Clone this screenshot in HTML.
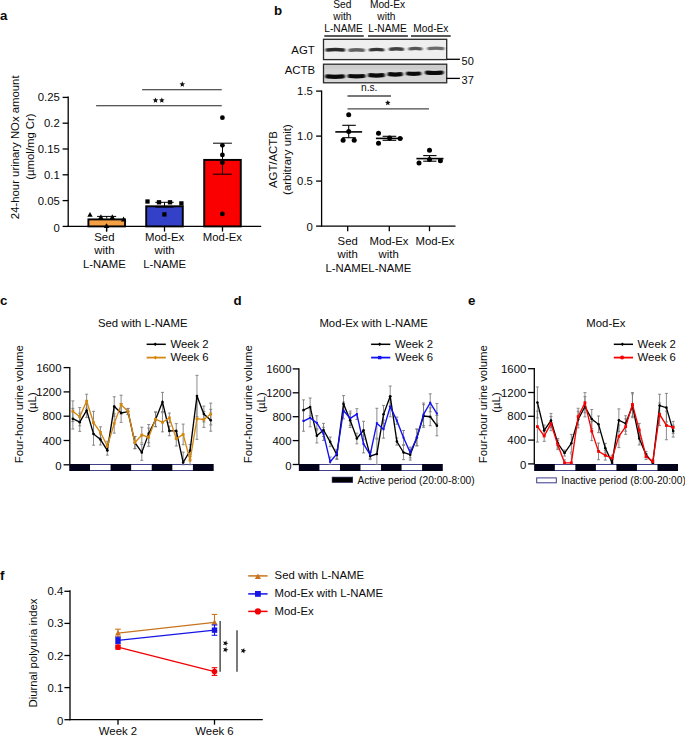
<!DOCTYPE html>
<html><head><meta charset="utf-8"><style>
html,body{margin:0;padding:0;background:#fff;}
svg{display:block;font-family:"Liberation Sans",sans-serif;}

</style></head><body>
<svg width="685" height="735" viewBox="0 0 685 735" font-size="11.35" fill="#0a0a0a">
<text x="0.00" y="19.60" font-size="13.3" font-weight="bold">a</text>
<line x1="68.20" y1="96.50" x2="68.20" y2="227.05" stroke="#000" stroke-width="1.3" />
<line x1="62.60" y1="226.40" x2="68.20" y2="226.40" stroke="#000" stroke-width="1.3" />
<text x="59.80" y="231.60" text-anchor="end">0</text>
<line x1="62.60" y1="200.60" x2="68.20" y2="200.60" stroke="#000" stroke-width="1.3" />
<text x="59.80" y="204.60" text-anchor="end">0.05</text>
<line x1="62.60" y1="174.80" x2="68.20" y2="174.80" stroke="#000" stroke-width="1.3" />
<text x="59.80" y="178.80" text-anchor="end">0.1</text>
<line x1="62.60" y1="149.00" x2="68.20" y2="149.00" stroke="#000" stroke-width="1.3" />
<text x="59.80" y="153.00" text-anchor="end">0.15</text>
<line x1="62.60" y1="123.20" x2="68.20" y2="123.20" stroke="#000" stroke-width="1.3" />
<text x="59.80" y="127.20" text-anchor="end">0.2</text>
<line x1="62.60" y1="97.40" x2="68.20" y2="97.40" stroke="#000" stroke-width="1.3" />
<text x="59.80" y="101.40" text-anchor="end">0.25</text>
<line x1="67.55" y1="226.40" x2="261.20" y2="226.40" stroke="#000" stroke-width="1.3" />
<text transform="translate(19.20,147.30) rotate(-90)" text-anchor="middle">24-hour urinary NOx amount</text>
<text transform="translate(33.80,146.60) rotate(-90)" text-anchor="middle">(µmol/mg Cr)</text>
<rect x="88.40" y="219.40" width="36.60" height="7.00" fill="#F5A043" stroke="#000" stroke-width="1.9" />
<line x1="106.70" y1="226.40" x2="106.70" y2="231.60" stroke="#000" stroke-width="1.3" />
<rect x="146.20" y="206.30" width="36.60" height="20.10" fill="#3241C8" stroke="#000" stroke-width="1.9" />
<line x1="164.50" y1="226.40" x2="164.50" y2="231.60" stroke="#000" stroke-width="1.3" />
<rect x="204.20" y="159.90" width="36.60" height="66.50" fill="#FA0000" stroke="#000" stroke-width="1.9" />
<line x1="222.50" y1="226.40" x2="222.50" y2="231.60" stroke="#000" stroke-width="1.3" />
<line x1="97.10" y1="216.40" x2="116.20" y2="216.40" stroke="#000" stroke-width="1.0" />
<line x1="106.70" y1="216.40" x2="106.70" y2="218.50" stroke="#000" stroke-width="1.0" />
<line x1="106.50" y1="224.00" x2="106.50" y2="231.50" stroke="#000" stroke-width="1.2" />
<line x1="155.30" y1="202.30" x2="173.70" y2="202.30" stroke="#000" stroke-width="1.0" />
<line x1="155.30" y1="207.10" x2="173.70" y2="207.10" stroke="#000" stroke-width="1.0" />
<line x1="164.50" y1="202.30" x2="164.50" y2="207.10" stroke="#000" stroke-width="1.0" />
<line x1="213.00" y1="143.20" x2="231.90" y2="143.20" stroke="#000" stroke-width="1.0" />
<line x1="213.00" y1="174.20" x2="231.90" y2="174.20" stroke="#000" stroke-width="1.0" />
<line x1="222.50" y1="143.20" x2="222.50" y2="174.20" stroke="#000" stroke-width="1.0" />
<polygon points="87.30,216.83 92.70,216.83 90.00,211.97" fill="#000"/>
<polygon points="98.20,219.13 103.60,219.13 100.90,214.27" fill="#000"/>
<polygon points="109.60,219.13 115.00,219.13 112.30,214.27" fill="#000"/>
<polygon points="120.90,221.43 126.30,221.43 123.60,216.57" fill="#000"/>
<polygon points="103.80,228.03 109.20,228.03 106.50,223.17" fill="#000"/>
<rect x="145.35" y="199.35" width="4.30" height="4.30" fill="#000" />
<rect x="156.85" y="200.15" width="4.30" height="4.30" fill="#000" />
<rect x="167.85" y="200.15" width="4.30" height="4.30" fill="#000" />
<rect x="179.25" y="201.25" width="4.30" height="4.30" fill="#000" />
<rect x="162.25" y="212.25" width="4.30" height="4.30" fill="#000" />
<circle cx="222.40" cy="117.70" r="2.4" fill="#000"/>
<circle cx="222.40" cy="145.30" r="2.4" fill="#000"/>
<circle cx="222.40" cy="154.90" r="2.4" fill="#000"/>
<circle cx="222.40" cy="162.50" r="2.4" fill="#000"/>
<circle cx="222.40" cy="213.90" r="2.4" fill="#000"/>
<line x1="142.10" y1="89.70" x2="221.80" y2="89.70" stroke="#222" stroke-width="1.1" />
<line x1="96.10" y1="105.70" x2="221.80" y2="105.70" stroke="#222" stroke-width="1.1" />
<polygon points="182.30,81.35 183.08,83.23 185.11,83.39 183.56,84.71 184.03,86.69 182.30,85.63 180.57,86.69 181.04,84.71 179.49,83.39 181.52,83.23" fill="#111"/>
<polygon points="155.50,97.45 156.28,99.33 158.31,99.49 156.76,100.81 157.23,102.79 155.50,101.73 153.77,102.79 154.24,100.81 152.69,99.49 154.72,99.33" fill="#111"/>
<polygon points="161.80,97.45 162.58,99.33 164.61,99.49 163.06,100.81 163.53,102.79 161.80,101.73 160.07,102.79 160.54,100.81 158.99,99.49 161.02,99.33" fill="#111"/>
<text x="104.40" y="240.80" text-anchor="middle">Sed</text>
<text x="104.40" y="254.30" text-anchor="middle">with</text>
<text x="104.40" y="267.80" text-anchor="middle">L-NAME</text>
<text x="164.60" y="240.80" text-anchor="middle">Mod-Ex</text>
<text x="164.60" y="254.30" text-anchor="middle">with</text>
<text x="164.60" y="267.80" text-anchor="middle">L-NAME</text>
<text x="222.40" y="240.80" text-anchor="middle">Mod-Ex</text>
<text x="274.00" y="14.60" font-size="13.3" font-weight="bold">b</text>
<text x="342.40" y="7.80" text-anchor="middle" font-size="10.2">Sed</text>
<text x="342.40" y="19.90" text-anchor="middle" font-size="10.2">with</text>
<text x="343.50" y="32.10" text-anchor="middle" font-size="10.2">L-NAME</text>
<text x="387.50" y="7.60" text-anchor="middle" font-size="10.2">Mod-Ex</text>
<text x="386.40" y="19.60" text-anchor="middle" font-size="10.2">with</text>
<text x="387.50" y="31.90" text-anchor="middle" font-size="10.2">L-NAME</text>
<text x="430.90" y="32.10" text-anchor="middle" font-size="10.2">Mod-Ex</text>
<line x1="324.30" y1="36.00" x2="363.70" y2="36.00" stroke="#222" stroke-width="1.6" />
<line x1="368.00" y1="36.00" x2="407.90" y2="36.00" stroke="#222" stroke-width="1.6" />
<line x1="411.00" y1="36.00" x2="450.70" y2="36.00" stroke="#222" stroke-width="1.6" />
<defs><filter id="bl" filterUnits="userSpaceOnUse" x="300" y="30" width="170" height="60"><feGaussianBlur stdDeviation="0.9 0.7"/></filter><filter id="bl2" x="-20%" y="-50%" width="140%" height="200%"><feGaussianBlur stdDeviation="2.5"/></filter></defs>
<rect x="323.50" y="39.30" width="123.20" height="20.30" fill="#efefef" />
<rect x="323.50" y="64.20" width="123.20" height="18.60" fill="#d6d6d6" />
<path d="M327.1,50.0 Q335.3,49.0 343.5,50.0" stroke="#151515" stroke-width="3.4" stroke-linecap="round" fill="none" opacity="0.9" filter="url(#bl)"/>
<path d="M350.1,50.2 Q356.6,49.2 363.2,50.2" stroke="#151515" stroke-width="3.4" stroke-linecap="round" fill="none" opacity="0.65" filter="url(#bl)"/>
<path d="M370.5,49.9 Q376.6,48.9 382.7,49.9" stroke="#151515" stroke-width="3.4" stroke-linecap="round" fill="none" opacity="0.85" filter="url(#bl)"/>
<path d="M390.5,49.2 Q396.4,48.2 402.4,49.2" stroke="#151515" stroke-width="3.4" stroke-linecap="round" fill="none" opacity="0.8" filter="url(#bl)"/>
<path d="M410.0,48.9 Q415.4,47.9 420.8,48.9" stroke="#151515" stroke-width="3.4" stroke-linecap="round" fill="none" opacity="0.7" filter="url(#bl)"/>
<path d="M428.9,48.6 Q435.9,47.6 442.8,48.6" stroke="#151515" stroke-width="3.4" stroke-linecap="round" fill="none" opacity="0.6" filter="url(#bl)"/>
<rect x="324.30" y="64.90" width="121.60" height="4.50" fill="#cccccc" filter="url(#bl)"/>
<path d="M327.1,76.4 Q335.1,77.2 343.0,76.4" stroke="#000" stroke-width="4.2" stroke-linecap="round" fill="none" opacity="0.95" filter="url(#bl)"/>
<path d="M349.6,76.0 Q356.6,76.8 363.5,76.0" stroke="#000" stroke-width="4.2" stroke-linecap="round" fill="none" opacity="0.95" filter="url(#bl)"/>
<path d="M370.0,75.2 Q376.4,76.0 382.9,75.2" stroke="#000" stroke-width="4.2" stroke-linecap="round" fill="none" opacity="0.95" filter="url(#bl)"/>
<path d="M389.5,74.2 Q395.2,75.0 400.9,74.2" stroke="#000" stroke-width="4.2" stroke-linecap="round" fill="none" opacity="0.95" filter="url(#bl)"/>
<path d="M408.0,73.5 Q413.6,74.3 419.3,73.5" stroke="#000" stroke-width="4.2" stroke-linecap="round" fill="none" opacity="0.95" filter="url(#bl)"/>
<path d="M426.9,72.6 Q434.3,73.4 441.7,72.6" stroke="#000" stroke-width="4.2" stroke-linecap="round" fill="none" opacity="0.95" filter="url(#bl)"/>
<rect x="323.50" y="39.30" width="123.20" height="20.30" fill="none" stroke="#2a2a2a" stroke-width="1.3" />
<rect x="323.50" y="64.20" width="123.20" height="18.60" fill="none" stroke="#2a2a2a" stroke-width="1.3" />
<text x="314.70" y="53.70" text-anchor="end">AGT</text>
<text x="315.00" y="74.40" text-anchor="end">ACTB</text>
<line x1="447.00" y1="59.30" x2="459.90" y2="59.30" stroke="#000" stroke-width="1.3" />
<line x1="446.40" y1="78.40" x2="459.90" y2="78.40" stroke="#000" stroke-width="1.3" />
<text x="461.60" y="64.90" font-size="11">50</text>
<text x="461.60" y="83.90" font-size="11">37</text>
<line x1="321.60" y1="90.50" x2="321.60" y2="226.75" stroke="#000" stroke-width="1.3" />
<line x1="316.10" y1="226.10" x2="321.60" y2="226.10" stroke="#000" stroke-width="1.3" />
<text x="312.90" y="231.30" text-anchor="end">0</text>
<line x1="316.10" y1="181.10" x2="321.60" y2="181.10" stroke="#000" stroke-width="1.3" />
<text x="312.90" y="185.10" text-anchor="end">0.5</text>
<line x1="316.10" y1="136.10" x2="321.60" y2="136.10" stroke="#000" stroke-width="1.3" />
<text x="312.90" y="140.10" text-anchor="end">1.0</text>
<line x1="316.10" y1="91.10" x2="321.60" y2="91.10" stroke="#000" stroke-width="1.3" />
<text x="312.90" y="95.10" text-anchor="end">1.5</text>
<line x1="320.95" y1="226.10" x2="455.50" y2="226.10" stroke="#000" stroke-width="1.3" />
<line x1="347.70" y1="226.10" x2="347.70" y2="231.20" stroke="#000" stroke-width="1.3" />
<line x1="389.30" y1="226.10" x2="389.30" y2="231.20" stroke="#000" stroke-width="1.3" />
<line x1="429.50" y1="226.10" x2="429.50" y2="231.20" stroke="#000" stroke-width="1.3" />
<text transform="translate(277.10,159.60) rotate(-90)" text-anchor="middle">AGT/ACTB</text>
<text transform="translate(291.30,159.60) rotate(-90)" text-anchor="middle">(arbitrary unit)</text>
<line x1="347.50" y1="96.00" x2="391.00" y2="96.00" stroke="#4a4a4a" stroke-width="1.4" />
<line x1="347.50" y1="108.90" x2="429.00" y2="108.90" stroke="#4a4a4a" stroke-width="1.4" />
<text x="369.20" y="90.80" text-anchor="middle" font-size="10.2">n.s.</text>
<polygon points="387.80,99.95 388.58,101.83 390.61,101.99 389.06,103.31 389.53,105.29 387.80,104.23 386.07,105.29 386.54,103.31 384.99,101.99 387.02,101.83" fill="#111"/>
<circle cx="348.70" cy="114.80" r="2.5" fill="#000"/>
<circle cx="348.70" cy="131.60" r="2.5" fill="#000"/>
<circle cx="343.10" cy="140.30" r="2.5" fill="#000"/>
<circle cx="354.20" cy="140.30" r="2.5" fill="#000"/>
<circle cx="378.50" cy="133.30" r="2.5" fill="#000"/>
<circle cx="378.50" cy="143.30" r="2.5" fill="#000"/>
<circle cx="389.60" cy="138.10" r="2.5" fill="#000"/>
<circle cx="400.10" cy="138.40" r="2.5" fill="#000"/>
<circle cx="429.50" cy="150.30" r="2.5" fill="#000"/>
<circle cx="419.00" cy="163.10" r="2.5" fill="#000"/>
<circle cx="429.50" cy="159.60" r="2.5" fill="#000"/>
<circle cx="440.40" cy="160.80" r="2.5" fill="#000"/>
<line x1="335.30" y1="131.90" x2="362.10" y2="131.90" stroke="#000" stroke-width="1.6" />
<line x1="342.30" y1="125.30" x2="355.80" y2="125.30" stroke="#000" stroke-width="1.1" />
<line x1="342.30" y1="137.70" x2="355.80" y2="137.70" stroke="#000" stroke-width="1.1" />
<line x1="348.70" y1="125.30" x2="348.70" y2="137.70" stroke="#000" stroke-width="1.1" />
<line x1="375.90" y1="138.40" x2="402.70" y2="138.40" stroke="#000" stroke-width="1.6" />
<line x1="382.60" y1="136.30" x2="396.20" y2="136.30" stroke="#000" stroke-width="1.1" />
<line x1="382.60" y1="140.30" x2="396.20" y2="140.30" stroke="#000" stroke-width="1.1" />
<line x1="389.30" y1="136.30" x2="389.30" y2="140.30" stroke="#000" stroke-width="1.1" />
<line x1="416.40" y1="158.60" x2="443.50" y2="158.60" stroke="#000" stroke-width="1.6" />
<line x1="423.20" y1="155.60" x2="436.50" y2="155.60" stroke="#000" stroke-width="1.1" />
<line x1="423.20" y1="161.20" x2="436.50" y2="161.20" stroke="#000" stroke-width="1.1" />
<line x1="429.50" y1="155.60" x2="429.50" y2="161.20" stroke="#000" stroke-width="1.1" />
<text x="347.70" y="244.50" text-anchor="middle">Sed</text>
<text x="347.70" y="258.00" text-anchor="middle">with</text>
<text x="389.00" y="244.50" text-anchor="middle">Mod-Ex</text>
<text x="388.70" y="258.00" text-anchor="middle">with</text>
<text x="325.50" y="271.60" >L-NAMEL-NAME</text>
<text x="435.00" y="245.20" text-anchor="middle">Mod-Ex</text>
<text x="0.00" y="305.00" font-size="13.3" font-weight="bold">c</text>
<line x1="69.80" y1="367.00" x2="69.80" y2="465.40" stroke="#000" stroke-width="1.3" />
<line x1="63.60" y1="464.80" x2="69.80" y2="464.80" stroke="#000" stroke-width="1.3" />
<text x="61.50" y="470.00" text-anchor="end">0</text>
<line x1="63.60" y1="440.50" x2="69.80" y2="440.50" stroke="#000" stroke-width="1.3" />
<text x="61.50" y="444.50" text-anchor="end">400</text>
<line x1="63.60" y1="416.20" x2="69.80" y2="416.20" stroke="#000" stroke-width="1.3" />
<text x="61.50" y="420.20" text-anchor="end">800</text>
<line x1="63.60" y1="391.90" x2="69.80" y2="391.90" stroke="#000" stroke-width="1.3" />
<text x="61.50" y="395.90" text-anchor="end">1200</text>
<line x1="63.60" y1="367.60" x2="69.80" y2="367.60" stroke="#000" stroke-width="1.3" />
<text x="61.50" y="371.60" text-anchor="end">1600</text>
<text transform="translate(22.50,404.20) rotate(-90)" text-anchor="middle">Four-hour urine volume</text>
<text transform="translate(35.50,402.50) rotate(-90)" text-anchor="middle">(µL)</text>
<text x="142.70" y="327.20" text-anchor="middle">Sed with L-NAME</text>
<line x1="146.60" y1="344.30" x2="165.80" y2="344.30" stroke="#000" stroke-width="1.5" />
<polygon points="155.20,342.50 157.00,344.30 155.20,346.10 153.40,344.30" fill="#000"/>
<text x="170.40" y="347.60" >Week 2</text>
<line x1="146.60" y1="357.60" x2="165.80" y2="357.60" stroke="#D4870F" stroke-width="1.8" />
<polygon points="155.40,355.70 157.30,357.60 155.40,359.50 153.50,357.60" fill="#D4870F"/>
<text x="170.40" y="360.70" >Week 6</text>
<rect x="69.90" y="464.50" width="143.10" height="6.00" fill="#fff" stroke="#40408a" stroke-width="1.0" />
<rect x="69.40" y="464.00" width="20.59" height="7.00" fill="#02021a" />
<rect x="110.57" y="464.00" width="20.59" height="7.00" fill="#02021a" />
<rect x="151.74" y="464.00" width="20.59" height="7.00" fill="#02021a" />
<rect x="192.91" y="464.00" width="20.59" height="7.00" fill="#02021a" />
<line x1="72.85" y1="408.36" x2="72.85" y2="429.02" stroke="#777" stroke-width="0.85" />
<line x1="71.35" y1="408.36" x2="74.35" y2="408.36" stroke="#777" stroke-width="0.85" />
<line x1="71.35" y1="429.02" x2="74.35" y2="429.02" stroke="#777" stroke-width="0.85" />
<line x1="79.74" y1="413.10" x2="79.74" y2="431.33" stroke="#777" stroke-width="0.85" />
<line x1="78.24" y1="413.10" x2="81.24" y2="413.10" stroke="#777" stroke-width="0.85" />
<line x1="78.24" y1="431.33" x2="81.24" y2="431.33" stroke="#777" stroke-width="0.85" />
<line x1="86.64" y1="403.44" x2="86.64" y2="417.42" stroke="#777" stroke-width="0.85" />
<line x1="85.14" y1="403.44" x2="88.14" y2="403.44" stroke="#777" stroke-width="0.85" />
<line x1="85.14" y1="417.42" x2="88.14" y2="417.42" stroke="#777" stroke-width="0.85" />
<line x1="93.53" y1="422.70" x2="93.53" y2="445.18" stroke="#777" stroke-width="0.85" />
<line x1="92.03" y1="422.70" x2="95.03" y2="422.70" stroke="#777" stroke-width="0.85" />
<line x1="92.03" y1="445.18" x2="95.03" y2="445.18" stroke="#777" stroke-width="0.85" />
<line x1="100.43" y1="434.06" x2="100.43" y2="445.00" stroke="#777" stroke-width="0.85" />
<line x1="98.93" y1="434.06" x2="101.93" y2="434.06" stroke="#777" stroke-width="0.85" />
<line x1="98.93" y1="445.00" x2="101.93" y2="445.00" stroke="#777" stroke-width="0.85" />
<line x1="107.32" y1="445.42" x2="107.32" y2="455.14" stroke="#777" stroke-width="0.85" />
<line x1="105.82" y1="445.42" x2="108.82" y2="445.42" stroke="#777" stroke-width="0.85" />
<line x1="105.82" y1="455.14" x2="108.82" y2="455.14" stroke="#777" stroke-width="0.85" />
<line x1="114.22" y1="396.76" x2="114.22" y2="416.20" stroke="#777" stroke-width="0.85" />
<line x1="112.72" y1="396.76" x2="115.72" y2="396.76" stroke="#777" stroke-width="0.85" />
<line x1="112.72" y1="416.20" x2="115.72" y2="416.20" stroke="#777" stroke-width="0.85" />
<line x1="121.11" y1="403.50" x2="121.11" y2="422.34" stroke="#777" stroke-width="0.85" />
<line x1="119.61" y1="403.50" x2="122.61" y2="403.50" stroke="#777" stroke-width="0.85" />
<line x1="119.61" y1="422.34" x2="122.61" y2="422.34" stroke="#777" stroke-width="0.85" />
<line x1="128.01" y1="408.67" x2="128.01" y2="414.74" stroke="#777" stroke-width="0.85" />
<line x1="126.51" y1="408.67" x2="129.51" y2="408.67" stroke="#777" stroke-width="0.85" />
<line x1="126.51" y1="414.74" x2="129.51" y2="414.74" stroke="#777" stroke-width="0.85" />
<line x1="134.90" y1="436.61" x2="134.90" y2="448.76" stroke="#777" stroke-width="0.85" />
<line x1="133.40" y1="436.61" x2="136.40" y2="436.61" stroke="#777" stroke-width="0.85" />
<line x1="133.40" y1="448.76" x2="136.40" y2="448.76" stroke="#777" stroke-width="0.85" />
<line x1="141.80" y1="444.51" x2="141.80" y2="460.30" stroke="#777" stroke-width="0.85" />
<line x1="140.30" y1="444.51" x2="143.30" y2="444.51" stroke="#777" stroke-width="0.85" />
<line x1="140.30" y1="460.30" x2="143.30" y2="460.30" stroke="#777" stroke-width="0.85" />
<line x1="148.69" y1="424.52" x2="148.69" y2="442.75" stroke="#777" stroke-width="0.85" />
<line x1="147.19" y1="424.52" x2="150.19" y2="424.52" stroke="#777" stroke-width="0.85" />
<line x1="147.19" y1="442.75" x2="150.19" y2="442.75" stroke="#777" stroke-width="0.85" />
<line x1="155.59" y1="412.19" x2="155.59" y2="426.77" stroke="#777" stroke-width="0.85" />
<line x1="154.09" y1="412.19" x2="157.09" y2="412.19" stroke="#777" stroke-width="0.85" />
<line x1="154.09" y1="426.77" x2="157.09" y2="426.77" stroke="#777" stroke-width="0.85" />
<line x1="162.48" y1="392.39" x2="162.48" y2="411.58" stroke="#777" stroke-width="0.85" />
<line x1="160.98" y1="392.39" x2="163.98" y2="392.39" stroke="#777" stroke-width="0.85" />
<line x1="160.98" y1="411.58" x2="163.98" y2="411.58" stroke="#777" stroke-width="0.85" />
<line x1="169.38" y1="426.04" x2="169.38" y2="435.76" stroke="#777" stroke-width="0.85" />
<line x1="167.88" y1="426.04" x2="170.88" y2="426.04" stroke="#777" stroke-width="0.85" />
<line x1="167.88" y1="435.76" x2="170.88" y2="435.76" stroke="#777" stroke-width="0.85" />
<line x1="176.27" y1="423.61" x2="176.27" y2="438.19" stroke="#777" stroke-width="0.85" />
<line x1="174.77" y1="423.61" x2="177.77" y2="423.61" stroke="#777" stroke-width="0.85" />
<line x1="174.77" y1="438.19" x2="177.77" y2="438.19" stroke="#777" stroke-width="0.85" />
<line x1="183.17" y1="452.16" x2="183.17" y2="464.80" stroke="#777" stroke-width="0.85" />
<line x1="181.67" y1="452.16" x2="184.67" y2="452.16" stroke="#777" stroke-width="0.85" />
<line x1="181.67" y1="464.80" x2="184.67" y2="464.80" stroke="#777" stroke-width="0.85" />
<line x1="190.06" y1="444.45" x2="190.06" y2="456.60" stroke="#777" stroke-width="0.85" />
<line x1="188.56" y1="444.45" x2="191.56" y2="444.45" stroke="#777" stroke-width="0.85" />
<line x1="188.56" y1="456.60" x2="191.56" y2="456.60" stroke="#777" stroke-width="0.85" />
<line x1="196.96" y1="375.38" x2="196.96" y2="416.69" stroke="#777" stroke-width="0.85" />
<line x1="195.46" y1="375.38" x2="198.46" y2="375.38" stroke="#777" stroke-width="0.85" />
<line x1="195.46" y1="416.69" x2="198.46" y2="416.69" stroke="#777" stroke-width="0.85" />
<line x1="203.85" y1="406.12" x2="203.85" y2="421.91" stroke="#777" stroke-width="0.85" />
<line x1="202.35" y1="406.12" x2="205.35" y2="406.12" stroke="#777" stroke-width="0.85" />
<line x1="202.35" y1="421.91" x2="205.35" y2="421.91" stroke="#777" stroke-width="0.85" />
<line x1="210.75" y1="409.34" x2="210.75" y2="431.21" stroke="#777" stroke-width="0.85" />
<line x1="209.25" y1="409.34" x2="212.25" y2="409.34" stroke="#777" stroke-width="0.85" />
<line x1="209.25" y1="431.21" x2="212.25" y2="431.21" stroke="#777" stroke-width="0.85" />
<line x1="72.85" y1="400.89" x2="72.85" y2="421.55" stroke="#777" stroke-width="0.85" />
<line x1="71.35" y1="400.89" x2="74.35" y2="400.89" stroke="#777" stroke-width="0.85" />
<line x1="71.35" y1="421.55" x2="74.35" y2="421.55" stroke="#777" stroke-width="0.85" />
<line x1="79.74" y1="407.57" x2="79.74" y2="425.80" stroke="#777" stroke-width="0.85" />
<line x1="78.24" y1="407.57" x2="81.24" y2="407.57" stroke="#777" stroke-width="0.85" />
<line x1="78.24" y1="425.80" x2="81.24" y2="425.80" stroke="#777" stroke-width="0.85" />
<line x1="86.64" y1="394.21" x2="86.64" y2="408.18" stroke="#777" stroke-width="0.85" />
<line x1="85.14" y1="394.21" x2="88.14" y2="394.21" stroke="#777" stroke-width="0.85" />
<line x1="85.14" y1="408.18" x2="88.14" y2="408.18" stroke="#777" stroke-width="0.85" />
<line x1="93.53" y1="411.34" x2="93.53" y2="433.82" stroke="#777" stroke-width="0.85" />
<line x1="92.03" y1="411.34" x2="95.03" y2="411.34" stroke="#777" stroke-width="0.85" />
<line x1="92.03" y1="433.82" x2="95.03" y2="433.82" stroke="#777" stroke-width="0.85" />
<line x1="100.43" y1="426.83" x2="100.43" y2="437.77" stroke="#777" stroke-width="0.85" />
<line x1="98.93" y1="426.83" x2="101.93" y2="426.83" stroke="#777" stroke-width="0.85" />
<line x1="98.93" y1="437.77" x2="101.93" y2="437.77" stroke="#777" stroke-width="0.85" />
<line x1="107.32" y1="441.23" x2="107.32" y2="450.95" stroke="#777" stroke-width="0.85" />
<line x1="105.82" y1="441.23" x2="108.82" y2="441.23" stroke="#777" stroke-width="0.85" />
<line x1="105.82" y1="450.95" x2="108.82" y2="450.95" stroke="#777" stroke-width="0.85" />
<line x1="114.22" y1="413.71" x2="114.22" y2="433.15" stroke="#777" stroke-width="0.85" />
<line x1="112.72" y1="413.71" x2="115.72" y2="413.71" stroke="#777" stroke-width="0.85" />
<line x1="112.72" y1="433.15" x2="115.72" y2="433.15" stroke="#777" stroke-width="0.85" />
<line x1="121.11" y1="395.18" x2="121.11" y2="414.01" stroke="#777" stroke-width="0.85" />
<line x1="119.61" y1="395.18" x2="122.61" y2="395.18" stroke="#777" stroke-width="0.85" />
<line x1="119.61" y1="414.01" x2="122.61" y2="414.01" stroke="#777" stroke-width="0.85" />
<line x1="128.01" y1="408.36" x2="128.01" y2="414.44" stroke="#777" stroke-width="0.85" />
<line x1="126.51" y1="408.36" x2="129.51" y2="408.36" stroke="#777" stroke-width="0.85" />
<line x1="126.51" y1="414.44" x2="129.51" y2="414.44" stroke="#777" stroke-width="0.85" />
<line x1="134.90" y1="436.43" x2="134.90" y2="448.58" stroke="#777" stroke-width="0.85" />
<line x1="133.40" y1="436.43" x2="136.40" y2="436.43" stroke="#777" stroke-width="0.85" />
<line x1="133.40" y1="448.58" x2="136.40" y2="448.58" stroke="#777" stroke-width="0.85" />
<line x1="141.80" y1="427.20" x2="141.80" y2="442.99" stroke="#777" stroke-width="0.85" />
<line x1="140.30" y1="427.20" x2="143.30" y2="427.20" stroke="#777" stroke-width="0.85" />
<line x1="140.30" y1="442.99" x2="143.30" y2="442.99" stroke="#777" stroke-width="0.85" />
<line x1="148.69" y1="428.05" x2="148.69" y2="446.27" stroke="#777" stroke-width="0.85" />
<line x1="147.19" y1="428.05" x2="150.19" y2="428.05" stroke="#777" stroke-width="0.85" />
<line x1="147.19" y1="446.27" x2="150.19" y2="446.27" stroke="#777" stroke-width="0.85" />
<line x1="155.59" y1="411.89" x2="155.59" y2="426.47" stroke="#777" stroke-width="0.85" />
<line x1="154.09" y1="411.89" x2="157.09" y2="411.89" stroke="#777" stroke-width="0.85" />
<line x1="154.09" y1="426.47" x2="157.09" y2="426.47" stroke="#777" stroke-width="0.85" />
<line x1="162.48" y1="412.68" x2="162.48" y2="431.87" stroke="#777" stroke-width="0.85" />
<line x1="160.98" y1="412.68" x2="163.98" y2="412.68" stroke="#777" stroke-width="0.85" />
<line x1="160.98" y1="431.87" x2="163.98" y2="431.87" stroke="#777" stroke-width="0.85" />
<line x1="169.38" y1="413.04" x2="169.38" y2="422.76" stroke="#777" stroke-width="0.85" />
<line x1="167.88" y1="413.04" x2="170.88" y2="413.04" stroke="#777" stroke-width="0.85" />
<line x1="167.88" y1="422.76" x2="170.88" y2="422.76" stroke="#777" stroke-width="0.85" />
<line x1="176.27" y1="431.45" x2="176.27" y2="446.03" stroke="#777" stroke-width="0.85" />
<line x1="174.77" y1="431.45" x2="177.77" y2="431.45" stroke="#777" stroke-width="0.85" />
<line x1="174.77" y1="446.03" x2="177.77" y2="446.03" stroke="#777" stroke-width="0.85" />
<line x1="183.17" y1="424.10" x2="183.17" y2="444.75" stroke="#777" stroke-width="0.85" />
<line x1="181.67" y1="424.10" x2="184.67" y2="424.10" stroke="#777" stroke-width="0.85" />
<line x1="181.67" y1="444.75" x2="184.67" y2="444.75" stroke="#777" stroke-width="0.85" />
<line x1="190.06" y1="454.11" x2="190.06" y2="464.80" stroke="#777" stroke-width="0.85" />
<line x1="188.56" y1="454.11" x2="191.56" y2="454.11" stroke="#777" stroke-width="0.85" />
<line x1="188.56" y1="464.80" x2="191.56" y2="464.80" stroke="#777" stroke-width="0.85" />
<line x1="196.96" y1="398.04" x2="196.96" y2="439.35" stroke="#777" stroke-width="0.85" />
<line x1="195.46" y1="398.04" x2="198.46" y2="398.04" stroke="#777" stroke-width="0.85" />
<line x1="195.46" y1="439.35" x2="198.46" y2="439.35" stroke="#777" stroke-width="0.85" />
<line x1="203.85" y1="411.58" x2="203.85" y2="427.38" stroke="#777" stroke-width="0.85" />
<line x1="202.35" y1="411.58" x2="205.35" y2="411.58" stroke="#777" stroke-width="0.85" />
<line x1="202.35" y1="427.38" x2="205.35" y2="427.38" stroke="#777" stroke-width="0.85" />
<line x1="210.75" y1="403.08" x2="210.75" y2="424.95" stroke="#777" stroke-width="0.85" />
<line x1="209.25" y1="403.08" x2="212.25" y2="403.08" stroke="#777" stroke-width="0.85" />
<line x1="209.25" y1="424.95" x2="212.25" y2="424.95" stroke="#777" stroke-width="0.85" />
<polyline points="72.85,418.69 79.74,422.21 86.64,410.43 93.53,433.94 100.43,439.53 107.32,450.28 114.22,406.48 121.11,412.92 128.01,411.70 134.90,442.69 141.80,452.41 148.69,433.64 155.59,419.48 162.48,401.98 169.38,430.90 176.27,430.90 183.17,462.49 190.06,450.52 196.96,396.03 203.85,414.01 210.75,420.27" fill="none" stroke="#000" stroke-width="1.35" stroke-linejoin="miter"/>
<circle cx="72.85" cy="418.69" r="1.3" fill="#000"/>
<circle cx="79.74" cy="422.21" r="1.3" fill="#000"/>
<circle cx="86.64" cy="410.43" r="1.3" fill="#000"/>
<circle cx="93.53" cy="433.94" r="1.3" fill="#000"/>
<circle cx="100.43" cy="439.53" r="1.3" fill="#000"/>
<circle cx="107.32" cy="450.28" r="1.3" fill="#000"/>
<circle cx="114.22" cy="406.48" r="1.3" fill="#000"/>
<circle cx="121.11" cy="412.92" r="1.3" fill="#000"/>
<circle cx="128.01" cy="411.70" r="1.3" fill="#000"/>
<circle cx="134.90" cy="442.69" r="1.3" fill="#000"/>
<circle cx="141.80" cy="452.41" r="1.3" fill="#000"/>
<circle cx="148.69" cy="433.64" r="1.3" fill="#000"/>
<circle cx="155.59" cy="419.48" r="1.3" fill="#000"/>
<circle cx="162.48" cy="401.98" r="1.3" fill="#000"/>
<circle cx="169.38" cy="430.90" r="1.3" fill="#000"/>
<circle cx="176.27" cy="430.90" r="1.3" fill="#000"/>
<circle cx="183.17" cy="462.49" r="1.3" fill="#000"/>
<circle cx="190.06" cy="450.52" r="1.3" fill="#000"/>
<circle cx="196.96" cy="396.03" r="1.3" fill="#000"/>
<circle cx="203.85" cy="414.01" r="1.3" fill="#000"/>
<circle cx="210.75" cy="420.27" r="1.3" fill="#000"/>
<polyline points="72.85,411.22 79.74,416.69 86.64,401.19 93.53,422.58 100.43,432.30 107.32,446.09 114.22,423.43 121.11,404.60 128.01,411.40 134.90,442.50 141.80,435.09 148.69,437.16 155.59,419.18 162.48,422.28 169.38,417.90 176.27,438.74 183.17,434.43 190.06,460.18 196.96,418.69 203.85,419.48 210.75,414.01" fill="none" stroke="#D4870F" stroke-width="1.35" stroke-linejoin="miter"/>
<rect x="71.45" y="409.82" width="2.80" height="2.80" fill="#D4870F" />
<rect x="78.34" y="415.29" width="2.80" height="2.80" fill="#D4870F" />
<rect x="85.24" y="399.79" width="2.80" height="2.80" fill="#D4870F" />
<rect x="92.13" y="421.18" width="2.80" height="2.80" fill="#D4870F" />
<rect x="99.03" y="430.90" width="2.80" height="2.80" fill="#D4870F" />
<rect x="105.92" y="444.69" width="2.80" height="2.80" fill="#D4870F" />
<rect x="112.82" y="422.03" width="2.80" height="2.80" fill="#D4870F" />
<rect x="119.71" y="403.20" width="2.80" height="2.80" fill="#D4870F" />
<rect x="126.61" y="410.00" width="2.80" height="2.80" fill="#D4870F" />
<rect x="133.50" y="441.10" width="2.80" height="2.80" fill="#D4870F" />
<rect x="140.40" y="433.69" width="2.80" height="2.80" fill="#D4870F" />
<rect x="147.29" y="435.76" width="2.80" height="2.80" fill="#D4870F" />
<rect x="154.19" y="417.78" width="2.80" height="2.80" fill="#D4870F" />
<rect x="161.08" y="420.88" width="2.80" height="2.80" fill="#D4870F" />
<rect x="167.98" y="416.50" width="2.80" height="2.80" fill="#D4870F" />
<rect x="174.87" y="437.34" width="2.80" height="2.80" fill="#D4870F" />
<rect x="181.77" y="433.03" width="2.80" height="2.80" fill="#D4870F" />
<rect x="188.66" y="458.78" width="2.80" height="2.80" fill="#D4870F" />
<rect x="195.56" y="417.29" width="2.80" height="2.80" fill="#D4870F" />
<rect x="202.45" y="418.08" width="2.80" height="2.80" fill="#D4870F" />
<rect x="209.35" y="412.61" width="2.80" height="2.80" fill="#D4870F" />
<text x="233.40" y="305.00" font-size="13.3" font-weight="bold">d</text>
<line x1="298.90" y1="368.30" x2="298.90" y2="465.10" stroke="#000" stroke-width="1.3" />
<line x1="292.70" y1="464.50" x2="298.90" y2="464.50" stroke="#000" stroke-width="1.3" />
<text x="291.50" y="469.70" text-anchor="end">0</text>
<line x1="292.70" y1="440.60" x2="298.90" y2="440.60" stroke="#000" stroke-width="1.3" />
<text x="291.50" y="444.60" text-anchor="end">400</text>
<line x1="292.70" y1="416.70" x2="298.90" y2="416.70" stroke="#000" stroke-width="1.3" />
<text x="291.50" y="420.70" text-anchor="end">800</text>
<line x1="292.70" y1="392.80" x2="298.90" y2="392.80" stroke="#000" stroke-width="1.3" />
<text x="291.50" y="396.80" text-anchor="end">1200</text>
<line x1="292.70" y1="368.90" x2="298.90" y2="368.90" stroke="#000" stroke-width="1.3" />
<text x="291.50" y="372.90" text-anchor="end">1600</text>
<text transform="translate(251.90,404.20) rotate(-90)" text-anchor="middle">Four-hour urine volume</text>
<text transform="translate(264.90,402.50) rotate(-90)" text-anchor="middle">(µL)</text>
<text x="373.60" y="327.20" text-anchor="middle">Mod-Ex with L-NAME</text>
<line x1="371.10" y1="344.30" x2="390.30" y2="344.30" stroke="#000" stroke-width="1.5" />
<polygon points="379.70,342.50 381.50,344.30 379.70,346.10 377.90,344.30" fill="#000"/>
<text x="394.90" y="347.60" >Week 2</text>
<line x1="371.10" y1="357.60" x2="390.30" y2="357.60" stroke="#1010F0" stroke-width="1.8" />
<rect x="378.00" y="355.90" width="3.40" height="3.40" fill="#1010F0" />
<text x="394.90" y="360.70" >Week 6</text>
<rect x="299.40" y="464.50" width="142.70" height="6.00" fill="#fff" stroke="#40408a" stroke-width="1.0" />
<rect x="298.90" y="464.00" width="20.53" height="7.00" fill="#02021a" />
<rect x="339.96" y="464.00" width="20.53" height="7.00" fill="#02021a" />
<rect x="381.01" y="464.00" width="20.53" height="7.00" fill="#02021a" />
<rect x="422.07" y="464.00" width="20.53" height="7.00" fill="#02021a" />
<line x1="303.50" y1="399.85" x2="303.50" y2="420.17" stroke="#777" stroke-width="0.85" />
<line x1="302.00" y1="399.85" x2="305.00" y2="399.85" stroke="#777" stroke-width="0.85" />
<line x1="302.00" y1="420.17" x2="305.00" y2="420.17" stroke="#777" stroke-width="0.85" />
<line x1="310.17" y1="398.00" x2="310.17" y2="415.92" stroke="#777" stroke-width="0.85" />
<line x1="308.67" y1="398.00" x2="311.67" y2="398.00" stroke="#777" stroke-width="0.85" />
<line x1="308.67" y1="415.92" x2="311.67" y2="415.92" stroke="#777" stroke-width="0.85" />
<line x1="316.84" y1="428.65" x2="316.84" y2="442.99" stroke="#777" stroke-width="0.85" />
<line x1="315.34" y1="428.65" x2="318.34" y2="428.65" stroke="#777" stroke-width="0.85" />
<line x1="315.34" y1="442.99" x2="318.34" y2="442.99" stroke="#777" stroke-width="0.85" />
<line x1="323.51" y1="423.39" x2="323.51" y2="436.54" stroke="#777" stroke-width="0.85" />
<line x1="322.01" y1="423.39" x2="325.01" y2="423.39" stroke="#777" stroke-width="0.85" />
<line x1="322.01" y1="436.54" x2="325.01" y2="436.54" stroke="#777" stroke-width="0.85" />
<line x1="330.18" y1="437.07" x2="330.18" y2="446.63" stroke="#777" stroke-width="0.85" />
<line x1="328.68" y1="437.07" x2="331.68" y2="437.07" stroke="#777" stroke-width="0.85" />
<line x1="328.68" y1="446.63" x2="331.68" y2="446.63" stroke="#777" stroke-width="0.85" />
<line x1="336.85" y1="449.98" x2="336.85" y2="459.54" stroke="#777" stroke-width="0.85" />
<line x1="335.35" y1="449.98" x2="338.35" y2="449.98" stroke="#777" stroke-width="0.85" />
<line x1="335.35" y1="459.54" x2="338.35" y2="459.54" stroke="#777" stroke-width="0.85" />
<line x1="343.52" y1="395.61" x2="343.52" y2="412.34" stroke="#777" stroke-width="0.85" />
<line x1="342.02" y1="395.61" x2="345.02" y2="395.61" stroke="#777" stroke-width="0.85" />
<line x1="342.02" y1="412.34" x2="345.02" y2="412.34" stroke="#777" stroke-width="0.85" />
<line x1="350.19" y1="413.17" x2="350.19" y2="427.51" stroke="#777" stroke-width="0.85" />
<line x1="348.69" y1="413.17" x2="351.69" y2="413.17" stroke="#777" stroke-width="0.85" />
<line x1="348.69" y1="427.51" x2="351.69" y2="427.51" stroke="#777" stroke-width="0.85" />
<line x1="356.86" y1="433.13" x2="356.86" y2="443.89" stroke="#777" stroke-width="0.85" />
<line x1="355.36" y1="433.13" x2="358.36" y2="433.13" stroke="#777" stroke-width="0.85" />
<line x1="355.36" y1="443.89" x2="358.36" y2="443.89" stroke="#777" stroke-width="0.85" />
<line x1="363.53" y1="421.30" x2="363.53" y2="439.23" stroke="#777" stroke-width="0.85" />
<line x1="362.03" y1="421.30" x2="365.03" y2="421.30" stroke="#777" stroke-width="0.85" />
<line x1="362.03" y1="439.23" x2="365.03" y2="439.23" stroke="#777" stroke-width="0.85" />
<line x1="370.20" y1="452.49" x2="370.20" y2="459.66" stroke="#777" stroke-width="0.85" />
<line x1="368.70" y1="452.49" x2="371.70" y2="452.49" stroke="#777" stroke-width="0.85" />
<line x1="368.70" y1="459.66" x2="371.70" y2="459.66" stroke="#777" stroke-width="0.85" />
<line x1="376.87" y1="439.05" x2="376.87" y2="464.50" stroke="#777" stroke-width="0.85" />
<line x1="375.37" y1="439.05" x2="378.37" y2="439.05" stroke="#777" stroke-width="0.85" />
<line x1="375.37" y1="464.50" x2="378.37" y2="464.50" stroke="#777" stroke-width="0.85" />
<line x1="383.54" y1="405.41" x2="383.54" y2="423.33" stroke="#777" stroke-width="0.85" />
<line x1="382.04" y1="405.41" x2="385.04" y2="405.41" stroke="#777" stroke-width="0.85" />
<line x1="382.04" y1="423.33" x2="385.04" y2="423.33" stroke="#777" stroke-width="0.85" />
<line x1="390.21" y1="386.05" x2="390.21" y2="406.36" stroke="#777" stroke-width="0.85" />
<line x1="388.71" y1="386.05" x2="391.71" y2="386.05" stroke="#777" stroke-width="0.85" />
<line x1="388.71" y1="406.36" x2="391.71" y2="406.36" stroke="#777" stroke-width="0.85" />
<line x1="396.88" y1="437.97" x2="396.88" y2="445.14" stroke="#777" stroke-width="0.85" />
<line x1="395.38" y1="437.97" x2="398.38" y2="437.97" stroke="#777" stroke-width="0.85" />
<line x1="395.38" y1="445.14" x2="398.38" y2="445.14" stroke="#777" stroke-width="0.85" />
<line x1="403.55" y1="445.32" x2="403.55" y2="459.66" stroke="#777" stroke-width="0.85" />
<line x1="402.05" y1="445.32" x2="405.05" y2="445.32" stroke="#777" stroke-width="0.85" />
<line x1="402.05" y1="459.66" x2="405.05" y2="459.66" stroke="#777" stroke-width="0.85" />
<line x1="410.22" y1="449.38" x2="410.22" y2="460.14" stroke="#777" stroke-width="0.85" />
<line x1="408.72" y1="449.38" x2="411.72" y2="449.38" stroke="#777" stroke-width="0.85" />
<line x1="408.72" y1="460.14" x2="411.72" y2="460.14" stroke="#777" stroke-width="0.85" />
<line x1="416.89" y1="429.07" x2="416.89" y2="445.80" stroke="#777" stroke-width="0.85" />
<line x1="415.39" y1="429.07" x2="418.39" y2="429.07" stroke="#777" stroke-width="0.85" />
<line x1="415.39" y1="445.80" x2="418.39" y2="445.80" stroke="#777" stroke-width="0.85" />
<line x1="423.56" y1="404.63" x2="423.56" y2="427.34" stroke="#777" stroke-width="0.85" />
<line x1="422.06" y1="404.63" x2="425.06" y2="404.63" stroke="#777" stroke-width="0.85" />
<line x1="422.06" y1="427.34" x2="425.06" y2="427.34" stroke="#777" stroke-width="0.85" />
<line x1="430.23" y1="407.80" x2="430.23" y2="425.72" stroke="#777" stroke-width="0.85" />
<line x1="428.73" y1="407.80" x2="431.73" y2="407.80" stroke="#777" stroke-width="0.85" />
<line x1="428.73" y1="425.72" x2="431.73" y2="425.72" stroke="#777" stroke-width="0.85" />
<line x1="436.90" y1="415.50" x2="436.90" y2="435.82" stroke="#777" stroke-width="0.85" />
<line x1="435.40" y1="415.50" x2="438.40" y2="415.50" stroke="#777" stroke-width="0.85" />
<line x1="435.40" y1="435.82" x2="438.40" y2="435.82" stroke="#777" stroke-width="0.85" />
<line x1="303.50" y1="410.90" x2="303.50" y2="431.22" stroke="#777" stroke-width="0.85" />
<line x1="302.00" y1="410.90" x2="305.00" y2="410.90" stroke="#777" stroke-width="0.85" />
<line x1="302.00" y1="431.22" x2="305.00" y2="431.22" stroke="#777" stroke-width="0.85" />
<line x1="310.17" y1="408.87" x2="310.17" y2="426.80" stroke="#777" stroke-width="0.85" />
<line x1="308.67" y1="408.87" x2="311.67" y2="408.87" stroke="#777" stroke-width="0.85" />
<line x1="308.67" y1="426.80" x2="311.67" y2="426.80" stroke="#777" stroke-width="0.85" />
<line x1="316.84" y1="415.74" x2="316.84" y2="430.08" stroke="#777" stroke-width="0.85" />
<line x1="315.34" y1="415.74" x2="318.34" y2="415.74" stroke="#777" stroke-width="0.85" />
<line x1="315.34" y1="430.08" x2="318.34" y2="430.08" stroke="#777" stroke-width="0.85" />
<line x1="323.51" y1="427.28" x2="323.51" y2="440.42" stroke="#777" stroke-width="0.85" />
<line x1="322.01" y1="427.28" x2="325.01" y2="427.28" stroke="#777" stroke-width="0.85" />
<line x1="322.01" y1="440.42" x2="325.01" y2="440.42" stroke="#777" stroke-width="0.85" />
<line x1="330.18" y1="457.03" x2="330.18" y2="464.50" stroke="#777" stroke-width="0.85" />
<line x1="328.68" y1="457.03" x2="331.68" y2="457.03" stroke="#777" stroke-width="0.85" />
<line x1="328.68" y1="464.50" x2="331.68" y2="464.50" stroke="#777" stroke-width="0.85" />
<line x1="336.85" y1="449.20" x2="336.85" y2="458.76" stroke="#777" stroke-width="0.85" />
<line x1="335.35" y1="449.20" x2="338.35" y2="449.20" stroke="#777" stroke-width="0.85" />
<line x1="335.35" y1="458.76" x2="338.35" y2="458.76" stroke="#777" stroke-width="0.85" />
<line x1="343.52" y1="402.12" x2="343.52" y2="418.85" stroke="#777" stroke-width="0.85" />
<line x1="342.02" y1="402.12" x2="345.02" y2="402.12" stroke="#777" stroke-width="0.85" />
<line x1="342.02" y1="418.85" x2="345.02" y2="418.85" stroke="#777" stroke-width="0.85" />
<line x1="350.19" y1="411.08" x2="350.19" y2="425.42" stroke="#777" stroke-width="0.85" />
<line x1="348.69" y1="411.08" x2="351.69" y2="411.08" stroke="#777" stroke-width="0.85" />
<line x1="348.69" y1="425.42" x2="351.69" y2="425.42" stroke="#777" stroke-width="0.85" />
<line x1="356.86" y1="408.69" x2="356.86" y2="419.45" stroke="#777" stroke-width="0.85" />
<line x1="355.36" y1="408.69" x2="358.36" y2="408.69" stroke="#777" stroke-width="0.85" />
<line x1="355.36" y1="419.45" x2="358.36" y2="419.45" stroke="#777" stroke-width="0.85" />
<line x1="363.53" y1="434.98" x2="363.53" y2="452.91" stroke="#777" stroke-width="0.85" />
<line x1="362.03" y1="434.98" x2="365.03" y2="434.98" stroke="#777" stroke-width="0.85" />
<line x1="362.03" y1="452.91" x2="365.03" y2="452.91" stroke="#777" stroke-width="0.85" />
<line x1="370.20" y1="451.18" x2="370.20" y2="458.35" stroke="#777" stroke-width="0.85" />
<line x1="368.70" y1="451.18" x2="371.70" y2="451.18" stroke="#777" stroke-width="0.85" />
<line x1="368.70" y1="458.35" x2="371.70" y2="458.35" stroke="#777" stroke-width="0.85" />
<line x1="376.87" y1="408.28" x2="376.87" y2="438.15" stroke="#777" stroke-width="0.85" />
<line x1="375.37" y1="408.28" x2="378.37" y2="408.28" stroke="#777" stroke-width="0.85" />
<line x1="375.37" y1="438.15" x2="378.37" y2="438.15" stroke="#777" stroke-width="0.85" />
<line x1="383.54" y1="420.23" x2="383.54" y2="438.15" stroke="#777" stroke-width="0.85" />
<line x1="382.04" y1="420.23" x2="385.04" y2="420.23" stroke="#777" stroke-width="0.85" />
<line x1="382.04" y1="438.15" x2="385.04" y2="438.15" stroke="#777" stroke-width="0.85" />
<line x1="390.21" y1="396.50" x2="390.21" y2="416.82" stroke="#777" stroke-width="0.85" />
<line x1="388.71" y1="396.50" x2="391.71" y2="396.50" stroke="#777" stroke-width="0.85" />
<line x1="388.71" y1="416.82" x2="391.71" y2="416.82" stroke="#777" stroke-width="0.85" />
<line x1="396.88" y1="417.06" x2="396.88" y2="424.23" stroke="#777" stroke-width="0.85" />
<line x1="395.38" y1="417.06" x2="398.38" y2="417.06" stroke="#777" stroke-width="0.85" />
<line x1="395.38" y1="424.23" x2="398.38" y2="424.23" stroke="#777" stroke-width="0.85" />
<line x1="403.55" y1="430.50" x2="403.55" y2="444.84" stroke="#777" stroke-width="0.85" />
<line x1="402.05" y1="430.50" x2="405.05" y2="430.50" stroke="#777" stroke-width="0.85" />
<line x1="402.05" y1="444.84" x2="405.05" y2="444.84" stroke="#777" stroke-width="0.85" />
<line x1="410.22" y1="447.11" x2="410.22" y2="457.87" stroke="#777" stroke-width="0.85" />
<line x1="408.72" y1="447.11" x2="411.72" y2="447.11" stroke="#777" stroke-width="0.85" />
<line x1="408.72" y1="457.87" x2="411.72" y2="457.87" stroke="#777" stroke-width="0.85" />
<line x1="416.89" y1="429.07" x2="416.89" y2="445.80" stroke="#777" stroke-width="0.85" />
<line x1="415.39" y1="429.07" x2="418.39" y2="429.07" stroke="#777" stroke-width="0.85" />
<line x1="415.39" y1="445.80" x2="418.39" y2="445.80" stroke="#777" stroke-width="0.85" />
<line x1="423.56" y1="403.02" x2="423.56" y2="425.72" stroke="#777" stroke-width="0.85" />
<line x1="422.06" y1="403.02" x2="425.06" y2="403.02" stroke="#777" stroke-width="0.85" />
<line x1="422.06" y1="425.72" x2="425.06" y2="425.72" stroke="#777" stroke-width="0.85" />
<line x1="430.23" y1="393.82" x2="430.23" y2="411.74" stroke="#777" stroke-width="0.85" />
<line x1="428.73" y1="393.82" x2="431.73" y2="393.82" stroke="#777" stroke-width="0.85" />
<line x1="428.73" y1="411.74" x2="431.73" y2="411.74" stroke="#777" stroke-width="0.85" />
<line x1="436.90" y1="403.44" x2="436.90" y2="423.75" stroke="#777" stroke-width="0.85" />
<line x1="435.40" y1="403.44" x2="438.40" y2="403.44" stroke="#777" stroke-width="0.85" />
<line x1="435.40" y1="423.75" x2="438.40" y2="423.75" stroke="#777" stroke-width="0.85" />
<polyline points="303.50,410.01 310.17,406.96 316.84,435.82 323.51,429.96 330.18,441.85 336.85,454.76 343.52,403.97 350.19,420.34 356.86,438.51 363.53,430.26 370.20,456.08 376.87,453.98 383.54,414.37 390.21,396.21 396.88,441.56 403.55,452.49 410.22,454.76 416.89,437.43 423.56,415.98 430.23,416.76 436.90,425.66" fill="none" stroke="#000" stroke-width="1.35" stroke-linejoin="miter"/>
<circle cx="303.50" cy="410.01" r="1.3" fill="#000"/>
<circle cx="310.17" cy="406.96" r="1.3" fill="#000"/>
<circle cx="316.84" cy="435.82" r="1.3" fill="#000"/>
<circle cx="323.51" cy="429.96" r="1.3" fill="#000"/>
<circle cx="330.18" cy="441.85" r="1.3" fill="#000"/>
<circle cx="336.85" cy="454.76" r="1.3" fill="#000"/>
<circle cx="343.52" cy="403.97" r="1.3" fill="#000"/>
<circle cx="350.19" cy="420.34" r="1.3" fill="#000"/>
<circle cx="356.86" cy="438.51" r="1.3" fill="#000"/>
<circle cx="363.53" cy="430.26" r="1.3" fill="#000"/>
<circle cx="370.20" cy="456.08" r="1.3" fill="#000"/>
<circle cx="376.87" cy="453.98" r="1.3" fill="#000"/>
<circle cx="383.54" cy="414.37" r="1.3" fill="#000"/>
<circle cx="390.21" cy="396.21" r="1.3" fill="#000"/>
<circle cx="396.88" cy="441.56" r="1.3" fill="#000"/>
<circle cx="403.55" cy="452.49" r="1.3" fill="#000"/>
<circle cx="410.22" cy="454.76" r="1.3" fill="#000"/>
<circle cx="416.89" cy="437.43" r="1.3" fill="#000"/>
<circle cx="423.56" cy="415.98" r="1.3" fill="#000"/>
<circle cx="430.23" cy="416.76" r="1.3" fill="#000"/>
<circle cx="436.90" cy="425.66" r="1.3" fill="#000"/>
<polyline points="303.50,421.06 310.17,417.84 316.84,422.91 323.51,433.85 330.18,461.81 336.85,453.98 343.52,410.49 350.19,418.25 356.86,414.07 363.53,443.95 370.20,454.76 376.87,423.21 383.54,429.19 390.21,406.66 396.88,420.64 403.55,437.67 410.22,452.49 416.89,437.43 423.56,414.37 430.23,402.78 436.90,413.59" fill="none" stroke="#1010F0" stroke-width="1.35" stroke-linejoin="miter"/>
<rect x="302.50" y="420.06" width="2.00" height="2.00" fill="#1010F0" />
<rect x="309.17" y="416.84" width="2.00" height="2.00" fill="#1010F0" />
<rect x="315.84" y="421.91" width="2.00" height="2.00" fill="#1010F0" />
<rect x="322.51" y="432.85" width="2.00" height="2.00" fill="#1010F0" />
<rect x="329.18" y="460.81" width="2.00" height="2.00" fill="#1010F0" />
<rect x="335.85" y="452.98" width="2.00" height="2.00" fill="#1010F0" />
<rect x="342.52" y="409.49" width="2.00" height="2.00" fill="#1010F0" />
<rect x="349.19" y="417.25" width="2.00" height="2.00" fill="#1010F0" />
<rect x="355.86" y="413.07" width="2.00" height="2.00" fill="#1010F0" />
<rect x="362.53" y="442.95" width="2.00" height="2.00" fill="#1010F0" />
<rect x="369.20" y="453.76" width="2.00" height="2.00" fill="#1010F0" />
<rect x="375.87" y="422.21" width="2.00" height="2.00" fill="#1010F0" />
<rect x="382.54" y="428.19" width="2.00" height="2.00" fill="#1010F0" />
<rect x="389.21" y="405.66" width="2.00" height="2.00" fill="#1010F0" />
<rect x="395.88" y="419.64" width="2.00" height="2.00" fill="#1010F0" />
<rect x="402.55" y="436.67" width="2.00" height="2.00" fill="#1010F0" />
<rect x="409.22" y="451.49" width="2.00" height="2.00" fill="#1010F0" />
<rect x="415.89" y="436.43" width="2.00" height="2.00" fill="#1010F0" />
<rect x="422.56" y="413.37" width="2.00" height="2.00" fill="#1010F0" />
<rect x="429.23" y="401.78" width="2.00" height="2.00" fill="#1010F0" />
<rect x="435.90" y="412.59" width="2.00" height="2.00" fill="#1010F0" />
<text x="468.10" y="305.00" font-size="13.3" font-weight="bold">e</text>
<line x1="534.30" y1="368.10" x2="534.30" y2="464.50" stroke="#000" stroke-width="1.3" />
<line x1="528.10" y1="463.90" x2="534.30" y2="463.90" stroke="#000" stroke-width="1.3" />
<text x="526.30" y="469.10" text-anchor="end">0</text>
<line x1="528.10" y1="440.10" x2="534.30" y2="440.10" stroke="#000" stroke-width="1.3" />
<text x="526.30" y="444.10" text-anchor="end">400</text>
<line x1="528.10" y1="416.30" x2="534.30" y2="416.30" stroke="#000" stroke-width="1.3" />
<text x="526.30" y="420.30" text-anchor="end">800</text>
<line x1="528.10" y1="392.50" x2="534.30" y2="392.50" stroke="#000" stroke-width="1.3" />
<text x="526.30" y="396.50" text-anchor="end">1200</text>
<line x1="528.10" y1="368.70" x2="534.30" y2="368.70" stroke="#000" stroke-width="1.3" />
<text x="526.30" y="372.70" text-anchor="end">1600</text>
<text transform="translate(487.30,404.20) rotate(-90)" text-anchor="middle">Four-hour urine volume</text>
<text transform="translate(500.30,402.50) rotate(-90)" text-anchor="middle">(µL)</text>
<text x="605.90" y="327.20" text-anchor="middle">Mod-Ex</text>
<line x1="613.80" y1="344.30" x2="633.00" y2="344.30" stroke="#000" stroke-width="1.5" />
<polygon points="622.40,342.50 624.20,344.30 622.40,346.10 620.60,344.30" fill="#000"/>
<text x="637.60" y="347.60" >Week 2</text>
<line x1="613.80" y1="357.60" x2="633.00" y2="357.60" stroke="#F80000" stroke-width="1.8" />
<circle cx="622.10" cy="357.60" r="2.0" fill="#F80000"/>
<text x="637.60" y="360.70" >Week 6</text>
<rect x="534.80" y="464.50" width="142.70" height="6.00" fill="#fff" stroke="#40408a" stroke-width="1.0" />
<rect x="534.30" y="464.00" width="20.53" height="7.00" fill="#02021a" />
<rect x="575.36" y="464.00" width="20.53" height="7.00" fill="#02021a" />
<rect x="616.41" y="464.00" width="20.53" height="7.00" fill="#02021a" />
<rect x="657.47" y="464.00" width="20.53" height="7.00" fill="#02021a" />
<line x1="537.40" y1="386.97" x2="537.40" y2="417.91" stroke="#777" stroke-width="0.85" />
<line x1="535.90" y1="386.97" x2="538.90" y2="386.97" stroke="#777" stroke-width="0.85" />
<line x1="535.90" y1="417.91" x2="538.90" y2="417.91" stroke="#777" stroke-width="0.85" />
<line x1="544.19" y1="425.05" x2="544.19" y2="435.76" stroke="#777" stroke-width="0.85" />
<line x1="542.69" y1="425.05" x2="545.69" y2="425.05" stroke="#777" stroke-width="0.85" />
<line x1="542.69" y1="435.76" x2="545.69" y2="435.76" stroke="#777" stroke-width="0.85" />
<line x1="550.98" y1="413.44" x2="550.98" y2="427.72" stroke="#777" stroke-width="0.85" />
<line x1="549.48" y1="413.44" x2="552.48" y2="413.44" stroke="#777" stroke-width="0.85" />
<line x1="549.48" y1="427.72" x2="552.48" y2="427.72" stroke="#777" stroke-width="0.85" />
<line x1="557.77" y1="438.55" x2="557.77" y2="448.07" stroke="#777" stroke-width="0.85" />
<line x1="556.27" y1="438.55" x2="559.27" y2="438.55" stroke="#777" stroke-width="0.85" />
<line x1="556.27" y1="448.07" x2="559.27" y2="448.07" stroke="#777" stroke-width="0.85" />
<line x1="564.56" y1="450.10" x2="564.56" y2="456.05" stroke="#777" stroke-width="0.85" />
<line x1="563.06" y1="450.10" x2="566.06" y2="450.10" stroke="#777" stroke-width="0.85" />
<line x1="563.06" y1="456.05" x2="566.06" y2="456.05" stroke="#777" stroke-width="0.85" />
<line x1="571.35" y1="434.39" x2="571.35" y2="452.24" stroke="#777" stroke-width="0.85" />
<line x1="569.85" y1="434.39" x2="572.85" y2="434.39" stroke="#777" stroke-width="0.85" />
<line x1="569.85" y1="452.24" x2="572.85" y2="452.24" stroke="#777" stroke-width="0.85" />
<line x1="578.14" y1="411.18" x2="578.14" y2="427.84" stroke="#777" stroke-width="0.85" />
<line x1="576.64" y1="411.18" x2="579.64" y2="411.18" stroke="#777" stroke-width="0.85" />
<line x1="576.64" y1="427.84" x2="579.64" y2="427.84" stroke="#777" stroke-width="0.85" />
<line x1="584.93" y1="396.66" x2="584.93" y2="416.89" stroke="#777" stroke-width="0.85" />
<line x1="583.43" y1="396.66" x2="586.43" y2="396.66" stroke="#777" stroke-width="0.85" />
<line x1="583.43" y1="416.89" x2="586.43" y2="416.89" stroke="#777" stroke-width="0.85" />
<line x1="591.72" y1="409.46" x2="591.72" y2="428.50" stroke="#777" stroke-width="0.85" />
<line x1="590.22" y1="409.46" x2="593.22" y2="409.46" stroke="#777" stroke-width="0.85" />
<line x1="590.22" y1="428.50" x2="593.22" y2="428.50" stroke="#777" stroke-width="0.85" />
<line x1="598.51" y1="416.00" x2="598.51" y2="432.66" stroke="#777" stroke-width="0.85" />
<line x1="597.01" y1="416.00" x2="600.01" y2="416.00" stroke="#777" stroke-width="0.85" />
<line x1="597.01" y1="432.66" x2="600.01" y2="432.66" stroke="#777" stroke-width="0.85" />
<line x1="605.30" y1="443.37" x2="605.30" y2="452.89" stroke="#777" stroke-width="0.85" />
<line x1="603.80" y1="443.37" x2="606.80" y2="443.37" stroke="#777" stroke-width="0.85" />
<line x1="603.80" y1="452.89" x2="606.80" y2="452.89" stroke="#777" stroke-width="0.85" />
<line x1="612.09" y1="459.73" x2="612.09" y2="463.90" stroke="#777" stroke-width="0.85" />
<line x1="610.59" y1="459.73" x2="613.59" y2="459.73" stroke="#777" stroke-width="0.85" />
<line x1="610.59" y1="463.90" x2="613.59" y2="463.90" stroke="#777" stroke-width="0.85" />
<line x1="618.88" y1="408.92" x2="618.88" y2="431.53" stroke="#777" stroke-width="0.85" />
<line x1="617.38" y1="408.92" x2="620.38" y2="408.92" stroke="#777" stroke-width="0.85" />
<line x1="617.38" y1="431.53" x2="620.38" y2="431.53" stroke="#777" stroke-width="0.85" />
<line x1="625.67" y1="415.76" x2="625.67" y2="431.23" stroke="#777" stroke-width="0.85" />
<line x1="624.17" y1="415.76" x2="627.17" y2="415.76" stroke="#777" stroke-width="0.85" />
<line x1="624.17" y1="431.23" x2="627.17" y2="431.23" stroke="#777" stroke-width="0.85" />
<line x1="632.46" y1="393.93" x2="632.46" y2="417.73" stroke="#777" stroke-width="0.85" />
<line x1="630.96" y1="393.93" x2="633.96" y2="393.93" stroke="#777" stroke-width="0.85" />
<line x1="630.96" y1="417.73" x2="633.96" y2="417.73" stroke="#777" stroke-width="0.85" />
<line x1="639.25" y1="431.89" x2="639.25" y2="444.98" stroke="#777" stroke-width="0.85" />
<line x1="637.75" y1="431.89" x2="640.75" y2="431.89" stroke="#777" stroke-width="0.85" />
<line x1="637.75" y1="444.98" x2="640.75" y2="444.98" stroke="#777" stroke-width="0.85" />
<line x1="646.04" y1="451.58" x2="646.04" y2="457.53" stroke="#777" stroke-width="0.85" />
<line x1="644.54" y1="451.58" x2="647.54" y2="451.58" stroke="#777" stroke-width="0.85" />
<line x1="644.54" y1="457.53" x2="647.54" y2="457.53" stroke="#777" stroke-width="0.85" />
<line x1="652.83" y1="460.92" x2="652.83" y2="463.90" stroke="#777" stroke-width="0.85" />
<line x1="651.33" y1="460.92" x2="654.33" y2="460.92" stroke="#777" stroke-width="0.85" />
<line x1="651.33" y1="463.90" x2="654.33" y2="463.90" stroke="#777" stroke-width="0.85" />
<line x1="659.62" y1="394.23" x2="659.62" y2="416.84" stroke="#777" stroke-width="0.85" />
<line x1="658.12" y1="394.23" x2="661.12" y2="394.23" stroke="#777" stroke-width="0.85" />
<line x1="658.12" y1="416.84" x2="661.12" y2="416.84" stroke="#777" stroke-width="0.85" />
<line x1="666.41" y1="393.39" x2="666.41" y2="421.95" stroke="#777" stroke-width="0.85" />
<line x1="664.91" y1="393.39" x2="667.91" y2="393.39" stroke="#777" stroke-width="0.85" />
<line x1="664.91" y1="421.95" x2="667.91" y2="421.95" stroke="#777" stroke-width="0.85" />
<line x1="673.20" y1="425.17" x2="673.20" y2="437.07" stroke="#777" stroke-width="0.85" />
<line x1="671.70" y1="425.17" x2="674.70" y2="425.17" stroke="#777" stroke-width="0.85" />
<line x1="671.70" y1="437.07" x2="674.70" y2="437.07" stroke="#777" stroke-width="0.85" />
<line x1="537.40" y1="411.12" x2="537.40" y2="442.06" stroke="#777" stroke-width="0.85" />
<line x1="535.90" y1="411.12" x2="538.90" y2="411.12" stroke="#777" stroke-width="0.85" />
<line x1="535.90" y1="442.06" x2="538.90" y2="442.06" stroke="#777" stroke-width="0.85" />
<line x1="544.19" y1="430.64" x2="544.19" y2="441.35" stroke="#777" stroke-width="0.85" />
<line x1="542.69" y1="430.64" x2="545.69" y2="430.64" stroke="#777" stroke-width="0.85" />
<line x1="542.69" y1="441.35" x2="545.69" y2="441.35" stroke="#777" stroke-width="0.85" />
<line x1="550.98" y1="416.42" x2="550.98" y2="430.70" stroke="#777" stroke-width="0.85" />
<line x1="549.48" y1="416.42" x2="552.48" y2="416.42" stroke="#777" stroke-width="0.85" />
<line x1="549.48" y1="430.70" x2="552.48" y2="430.70" stroke="#777" stroke-width="0.85" />
<line x1="557.77" y1="440.10" x2="557.77" y2="449.62" stroke="#777" stroke-width="0.85" />
<line x1="556.27" y1="440.10" x2="559.27" y2="440.10" stroke="#777" stroke-width="0.85" />
<line x1="556.27" y1="449.62" x2="559.27" y2="449.62" stroke="#777" stroke-width="0.85" />
<line x1="564.56" y1="459.85" x2="564.56" y2="463.90" stroke="#777" stroke-width="0.85" />
<line x1="563.06" y1="459.85" x2="566.06" y2="459.85" stroke="#777" stroke-width="0.85" />
<line x1="563.06" y1="463.90" x2="566.06" y2="463.90" stroke="#777" stroke-width="0.85" />
<line x1="571.35" y1="453.90" x2="571.35" y2="463.90" stroke="#777" stroke-width="0.85" />
<line x1="569.85" y1="453.90" x2="572.85" y2="453.90" stroke="#777" stroke-width="0.85" />
<line x1="569.85" y1="463.90" x2="572.85" y2="463.90" stroke="#777" stroke-width="0.85" />
<line x1="578.14" y1="408.27" x2="578.14" y2="424.93" stroke="#777" stroke-width="0.85" />
<line x1="576.64" y1="408.27" x2="579.64" y2="408.27" stroke="#777" stroke-width="0.85" />
<line x1="576.64" y1="424.93" x2="579.64" y2="424.93" stroke="#777" stroke-width="0.85" />
<line x1="584.93" y1="392.62" x2="584.93" y2="412.85" stroke="#777" stroke-width="0.85" />
<line x1="583.43" y1="392.62" x2="586.43" y2="392.62" stroke="#777" stroke-width="0.85" />
<line x1="583.43" y1="412.85" x2="586.43" y2="412.85" stroke="#777" stroke-width="0.85" />
<line x1="591.72" y1="421.60" x2="591.72" y2="440.64" stroke="#777" stroke-width="0.85" />
<line x1="590.22" y1="421.60" x2="593.22" y2="421.60" stroke="#777" stroke-width="0.85" />
<line x1="590.22" y1="440.64" x2="593.22" y2="440.64" stroke="#777" stroke-width="0.85" />
<line x1="598.51" y1="443.07" x2="598.51" y2="459.73" stroke="#777" stroke-width="0.85" />
<line x1="597.01" y1="443.07" x2="600.01" y2="443.07" stroke="#777" stroke-width="0.85" />
<line x1="597.01" y1="459.73" x2="600.01" y2="459.73" stroke="#777" stroke-width="0.85" />
<line x1="605.30" y1="450.57" x2="605.30" y2="460.09" stroke="#777" stroke-width="0.85" />
<line x1="603.80" y1="450.57" x2="606.80" y2="450.57" stroke="#777" stroke-width="0.85" />
<line x1="603.80" y1="460.09" x2="606.80" y2="460.09" stroke="#777" stroke-width="0.85" />
<line x1="612.09" y1="455.15" x2="612.09" y2="461.10" stroke="#777" stroke-width="0.85" />
<line x1="610.59" y1="455.15" x2="613.59" y2="455.15" stroke="#777" stroke-width="0.85" />
<line x1="610.59" y1="461.10" x2="613.59" y2="461.10" stroke="#777" stroke-width="0.85" />
<line x1="618.88" y1="424.99" x2="618.88" y2="447.60" stroke="#777" stroke-width="0.85" />
<line x1="617.38" y1="424.99" x2="620.38" y2="424.99" stroke="#777" stroke-width="0.85" />
<line x1="617.38" y1="447.60" x2="620.38" y2="447.60" stroke="#777" stroke-width="0.85" />
<line x1="625.67" y1="418.86" x2="625.67" y2="434.33" stroke="#777" stroke-width="0.85" />
<line x1="624.17" y1="418.86" x2="627.17" y2="418.86" stroke="#777" stroke-width="0.85" />
<line x1="624.17" y1="434.33" x2="627.17" y2="434.33" stroke="#777" stroke-width="0.85" />
<line x1="632.46" y1="392.50" x2="632.46" y2="416.30" stroke="#777" stroke-width="0.85" />
<line x1="630.96" y1="392.50" x2="633.96" y2="392.50" stroke="#777" stroke-width="0.85" />
<line x1="630.96" y1="416.30" x2="633.96" y2="416.30" stroke="#777" stroke-width="0.85" />
<line x1="639.25" y1="423.38" x2="639.25" y2="436.47" stroke="#777" stroke-width="0.85" />
<line x1="637.75" y1="423.38" x2="640.75" y2="423.38" stroke="#777" stroke-width="0.85" />
<line x1="637.75" y1="436.47" x2="640.75" y2="436.47" stroke="#777" stroke-width="0.85" />
<line x1="646.04" y1="453.55" x2="646.04" y2="459.50" stroke="#777" stroke-width="0.85" />
<line x1="644.54" y1="453.55" x2="647.54" y2="453.55" stroke="#777" stroke-width="0.85" />
<line x1="644.54" y1="459.50" x2="647.54" y2="459.50" stroke="#777" stroke-width="0.85" />
<line x1="652.83" y1="459.73" x2="652.83" y2="463.30" stroke="#777" stroke-width="0.85" />
<line x1="651.33" y1="459.73" x2="654.33" y2="459.73" stroke="#777" stroke-width="0.85" />
<line x1="651.33" y1="463.30" x2="654.33" y2="463.30" stroke="#777" stroke-width="0.85" />
<line x1="659.62" y1="402.97" x2="659.62" y2="425.58" stroke="#777" stroke-width="0.85" />
<line x1="658.12" y1="402.97" x2="661.12" y2="402.97" stroke="#777" stroke-width="0.85" />
<line x1="658.12" y1="425.58" x2="661.12" y2="425.58" stroke="#777" stroke-width="0.85" />
<line x1="666.41" y1="411.18" x2="666.41" y2="439.74" stroke="#777" stroke-width="0.85" />
<line x1="664.91" y1="411.18" x2="667.91" y2="411.18" stroke="#777" stroke-width="0.85" />
<line x1="664.91" y1="439.74" x2="667.91" y2="439.74" stroke="#777" stroke-width="0.85" />
<line x1="673.20" y1="421.42" x2="673.20" y2="433.32" stroke="#777" stroke-width="0.85" />
<line x1="671.70" y1="421.42" x2="674.70" y2="421.42" stroke="#777" stroke-width="0.85" />
<line x1="671.70" y1="433.32" x2="674.70" y2="433.32" stroke="#777" stroke-width="0.85" />
<polyline points="537.40,402.44 544.19,430.40 550.98,420.58 557.77,443.31 564.56,453.07 571.35,443.31 578.14,419.51 584.93,406.78 591.72,418.98 598.51,424.33 605.30,448.13 612.09,462.71 618.88,420.23 625.67,423.50 632.46,405.83 639.25,438.43 646.04,454.56 652.83,462.71 659.62,405.53 666.41,407.67 673.20,431.12" fill="none" stroke="#000" stroke-width="1.35" stroke-linejoin="miter"/>
<circle cx="537.40" cy="402.44" r="1.3" fill="#000"/>
<circle cx="544.19" cy="430.40" r="1.3" fill="#000"/>
<circle cx="550.98" cy="420.58" r="1.3" fill="#000"/>
<circle cx="557.77" cy="443.31" r="1.3" fill="#000"/>
<circle cx="564.56" cy="453.07" r="1.3" fill="#000"/>
<circle cx="571.35" cy="443.31" r="1.3" fill="#000"/>
<circle cx="578.14" cy="419.51" r="1.3" fill="#000"/>
<circle cx="584.93" cy="406.78" r="1.3" fill="#000"/>
<circle cx="591.72" cy="418.98" r="1.3" fill="#000"/>
<circle cx="598.51" cy="424.33" r="1.3" fill="#000"/>
<circle cx="605.30" cy="448.13" r="1.3" fill="#000"/>
<circle cx="612.09" cy="462.71" r="1.3" fill="#000"/>
<circle cx="618.88" cy="420.23" r="1.3" fill="#000"/>
<circle cx="625.67" cy="423.50" r="1.3" fill="#000"/>
<circle cx="632.46" cy="405.83" r="1.3" fill="#000"/>
<circle cx="639.25" cy="438.43" r="1.3" fill="#000"/>
<circle cx="646.04" cy="454.56" r="1.3" fill="#000"/>
<circle cx="652.83" cy="462.71" r="1.3" fill="#000"/>
<circle cx="659.62" cy="405.53" r="1.3" fill="#000"/>
<circle cx="666.41" cy="407.67" r="1.3" fill="#000"/>
<circle cx="673.20" cy="431.12" r="1.3" fill="#000"/>
<polyline points="537.40,426.59 544.19,435.99 550.98,423.56 557.77,444.86 564.56,462.83 571.35,462.83 578.14,416.60 584.93,402.73 591.72,431.12 598.51,451.40 605.30,455.33 612.09,458.13 618.88,436.29 625.67,426.59 632.46,404.40 639.25,429.93 646.04,456.52 652.83,461.52 659.62,414.28 666.41,425.46 673.20,427.37" fill="none" stroke="#F80000" stroke-width="1.35" stroke-linejoin="miter"/>
<rect x="536.00" y="425.19" width="2.80" height="2.80" fill="#F80000" />
<rect x="542.79" y="434.59" width="2.80" height="2.80" fill="#F80000" />
<rect x="549.58" y="422.16" width="2.80" height="2.80" fill="#F80000" />
<rect x="556.37" y="443.46" width="2.80" height="2.80" fill="#F80000" />
<rect x="563.16" y="461.43" width="2.80" height="2.80" fill="#F80000" />
<rect x="569.95" y="461.43" width="2.80" height="2.80" fill="#F80000" />
<rect x="576.74" y="415.20" width="2.80" height="2.80" fill="#F80000" />
<rect x="583.53" y="401.33" width="2.80" height="2.80" fill="#F80000" />
<rect x="590.32" y="429.72" width="2.80" height="2.80" fill="#F80000" />
<rect x="597.11" y="450.00" width="2.80" height="2.80" fill="#F80000" />
<rect x="603.90" y="453.93" width="2.80" height="2.80" fill="#F80000" />
<rect x="610.69" y="456.73" width="2.80" height="2.80" fill="#F80000" />
<rect x="617.48" y="434.89" width="2.80" height="2.80" fill="#F80000" />
<rect x="624.27" y="425.19" width="2.80" height="2.80" fill="#F80000" />
<rect x="631.06" y="403.00" width="2.80" height="2.80" fill="#F80000" />
<rect x="637.85" y="428.53" width="2.80" height="2.80" fill="#F80000" />
<rect x="644.64" y="455.12" width="2.80" height="2.80" fill="#F80000" />
<rect x="651.43" y="460.12" width="2.80" height="2.80" fill="#F80000" />
<rect x="658.22" y="412.88" width="2.80" height="2.80" fill="#F80000" />
<rect x="665.01" y="424.06" width="2.80" height="2.80" fill="#F80000" />
<rect x="671.80" y="425.97" width="2.80" height="2.80" fill="#F80000" />
<rect x="332.10" y="477.10" width="20.60" height="5.40" fill="#000" stroke="#1a1a5a" stroke-width="0.6" />
<text x="357.40" y="483.70" font-size="10.2">Active period (20:00-8:00)</text>
<rect x="536.70" y="477.90" width="19.60" height="4.90" fill="#fff" stroke="#3a3a8a" stroke-width="1.0" />
<text x="561.20" y="483.70" font-size="10.2">Inactive period (8:00-20:00)</text>
<text x="0.00" y="580.40" font-size="13.3" font-weight="bold">f</text>
<line x1="70.00" y1="590.30" x2="70.00" y2="720.35" stroke="#000" stroke-width="1.3" />
<line x1="64.40" y1="719.70" x2="70.00" y2="719.70" stroke="#000" stroke-width="1.3" />
<text x="63.30" y="724.70" text-anchor="end">0</text>
<line x1="64.40" y1="687.60" x2="70.00" y2="687.60" stroke="#000" stroke-width="1.3" />
<text x="63.30" y="691.60" text-anchor="end">0.1</text>
<line x1="64.40" y1="655.50" x2="70.00" y2="655.50" stroke="#000" stroke-width="1.3" />
<text x="63.30" y="659.50" text-anchor="end">0.2</text>
<line x1="64.40" y1="623.40" x2="70.00" y2="623.40" stroke="#000" stroke-width="1.3" />
<text x="63.30" y="627.40" text-anchor="end">0.3</text>
<line x1="64.40" y1="591.30" x2="70.00" y2="591.30" stroke="#000" stroke-width="1.3" />
<text x="63.30" y="595.30" text-anchor="end">0.4</text>
<line x1="69.35" y1="719.70" x2="262.80" y2="719.70" stroke="#000" stroke-width="1.3" />
<line x1="118.00" y1="719.70" x2="118.00" y2="724.70" stroke="#000" stroke-width="1.3" />
<line x1="214.50" y1="719.70" x2="214.50" y2="724.70" stroke="#000" stroke-width="1.3" />
<text x="118.00" y="734.50" text-anchor="middle">Week 2</text>
<text x="214.50" y="734.50" text-anchor="middle">Week 6</text>
<text transform="translate(37.10,653.00) rotate(-90)" text-anchor="middle">Diurnal polyuria index</text>
<line x1="118.00" y1="629.18" x2="118.00" y2="636.88" stroke="#C8741E" stroke-width="1.1" />
<line x1="115.20" y1="629.18" x2="120.80" y2="629.18" stroke="#C8741E" stroke-width="1.1" />
<line x1="115.20" y1="636.88" x2="120.80" y2="636.88" stroke="#C8741E" stroke-width="1.1" />
<line x1="214.50" y1="614.41" x2="214.50" y2="630.46" stroke="#C8741E" stroke-width="1.1" />
<line x1="211.70" y1="614.41" x2="217.30" y2="614.41" stroke="#C8741E" stroke-width="1.1" />
<line x1="211.70" y1="630.46" x2="217.30" y2="630.46" stroke="#C8741E" stroke-width="1.1" />
<line x1="118.00" y1="633.03" x2="214.50" y2="622.44" stroke="#C8741E" stroke-width="1.3" />
<polygon points="115.00,635.43 121.00,635.43 118.00,630.03" fill="#C8741E"/>
<polygon points="211.50,624.84 217.50,624.84 214.50,619.44" fill="#C8741E"/>
<line x1="118.00" y1="637.20" x2="118.00" y2="643.62" stroke="#1515E6" stroke-width="1.1" />
<line x1="115.20" y1="637.20" x2="120.80" y2="637.20" stroke="#1515E6" stroke-width="1.1" />
<line x1="115.20" y1="643.62" x2="120.80" y2="643.62" stroke="#1515E6" stroke-width="1.1" />
<line x1="214.50" y1="625.00" x2="214.50" y2="635.28" stroke="#1515E6" stroke-width="1.1" />
<line x1="211.70" y1="625.00" x2="217.30" y2="625.00" stroke="#1515E6" stroke-width="1.1" />
<line x1="211.70" y1="635.28" x2="217.30" y2="635.28" stroke="#1515E6" stroke-width="1.1" />
<line x1="118.00" y1="640.41" x2="214.50" y2="630.14" stroke="#1515E6" stroke-width="1.3" />
<rect x="115.30" y="637.71" width="5.40" height="5.40" fill="#1515E6" />
<rect x="211.80" y="627.44" width="5.40" height="5.40" fill="#1515E6" />
<line x1="118.00" y1="645.23" x2="118.00" y2="649.08" stroke="#F00000" stroke-width="1.1" />
<line x1="115.20" y1="645.23" x2="120.80" y2="645.23" stroke="#F00000" stroke-width="1.1" />
<line x1="115.20" y1="649.08" x2="120.80" y2="649.08" stroke="#F00000" stroke-width="1.1" />
<line x1="214.50" y1="667.70" x2="214.50" y2="675.40" stroke="#F00000" stroke-width="1.1" />
<line x1="211.70" y1="667.70" x2="217.30" y2="667.70" stroke="#F00000" stroke-width="1.1" />
<line x1="211.70" y1="675.40" x2="217.30" y2="675.40" stroke="#F00000" stroke-width="1.1" />
<line x1="118.00" y1="647.15" x2="214.50" y2="671.55" stroke="#F00000" stroke-width="1.3" />
<circle cx="118.00" cy="647.15" r="2.8" fill="#F00000"/>
<circle cx="214.50" cy="671.55" r="2.8" fill="#F00000"/>
<line x1="220.10" y1="621.00" x2="220.10" y2="671.80" stroke="#222" stroke-width="1.2" />
<line x1="237.00" y1="630.30" x2="237.00" y2="671.80" stroke="#222" stroke-width="1.2" />
<polygon points="228.45,643.30 226.57,644.08 226.41,646.11 225.09,644.56 223.11,645.03 224.17,643.30 223.11,641.57 225.09,642.04 226.41,640.49 226.57,642.52" fill="#111"/>
<polygon points="228.45,649.80 226.57,650.58 226.41,652.61 225.09,651.06 223.11,651.53 224.17,649.80 223.11,648.07 225.09,648.54 226.41,646.99 226.57,649.02" fill="#111"/>
<polygon points="246.25,650.80 244.37,651.58 244.21,653.61 242.89,652.06 240.91,652.53 241.97,650.80 240.91,649.07 242.89,649.54 244.21,647.99 244.37,650.02" fill="#111"/>
<line x1="248.20" y1="575.90" x2="267.60" y2="575.90" stroke="#C8741E" stroke-width="1.5" />
<polygon points="254.80,579.09 261.00,579.09 257.90,573.51" fill="#C8741E"/>
<text x="274.60" y="579.40" >Sed with L-NAME</text>
<line x1="248.20" y1="593.90" x2="267.60" y2="593.90" stroke="#1515E6" stroke-width="1.5" />
<rect x="255.00" y="591.00" width="5.80" height="5.80" fill="#1515E6" />
<text x="274.60" y="597.40" >Mod-Ex with L-NAME</text>
<line x1="248.20" y1="611.40" x2="267.60" y2="611.40" stroke="#F00000" stroke-width="1.5" />
<circle cx="257.90" cy="611.40" r="3.1" fill="#F00000"/>
<text x="274.60" y="614.90" >Mod-Ex</text>
</svg>
</body></html>
